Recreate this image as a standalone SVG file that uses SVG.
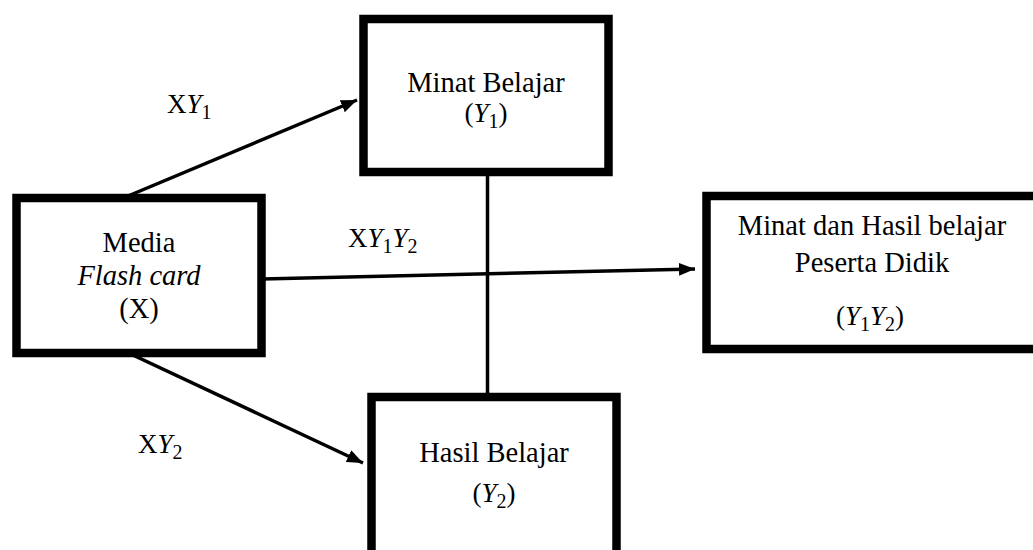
<svg xmlns="http://www.w3.org/2000/svg" width="1033" height="550" viewBox="0 0 1033 550">
<style>
.box{fill:#fff;stroke:#000;stroke-width:8.5}
.t{font-family:"Liberation Serif","Times New Roman",serif;font-size:28.5px;fill:#000}
.m{font-family:"Liberation Serif","Times New Roman",serif;font-size:27px;fill:#000}
.i{font-style:italic}
.sub{font-size:20px}
.c{stroke:#000;stroke-width:3.5;fill:none}
</style>
<defs>
<marker id="ah" markerUnits="userSpaceOnUse" markerWidth="18" markerHeight="14" refX="16" refY="6.5" orient="auto">
<path d="M0,0 L16,6.5 L0,13 z" fill="#000"/>
</marker>
</defs>
<rect width="1033" height="550" fill="#fff"/>
<g id="connectors">
<line class="c" x1="487.5" y1="172" x2="487.5" y2="396"/>
<line class="c" x1="128" y1="196" x2="357" y2="100" marker-end="url(#ah)"/>
<line class="c" x1="120" y1="349" x2="363" y2="463" marker-end="url(#ah)"/>
<line class="c" x1="262" y1="279" x2="695" y2="269" marker-end="url(#ah)"/>
</g>
<g id="node-media">
<rect class="box" x="16.5" y="198" width="245" height="155"/>
<text class="t" x="139" y="252" text-anchor="middle">Media</text>
<text class="t i" x="139" y="285" text-anchor="middle">Flash card</text>
<text class="t" x="139" y="318" text-anchor="middle">(X)</text>
</g>
<g id="node-minat">
<rect class="box" x="363.5" y="19" width="245" height="153"/>
<text class="t" x="486" y="92" text-anchor="middle">Minat Belajar</text>
<text class="m" x="486" y="122" text-anchor="middle">(<tspan class="i">Y</tspan><tspan class="sub" dy="6">1</tspan><tspan dy="-6">)</tspan></text>
</g>
<g id="node-hasil">
<rect class="box" x="371.5" y="397" width="245" height="158"/>
<text class="t" x="494" y="462" text-anchor="middle">Hasil Belajar</text>
<text class="m" x="494" y="502" text-anchor="middle">(<tspan class="i">Y</tspan><tspan class="sub" dy="6">2</tspan><tspan dy="-6">)</tspan></text>
</g>
<g id="node-result">
<rect class="box" x="706.5" y="196" width="335" height="153"/>
<text class="t" x="872" y="235" text-anchor="middle">Minat dan Hasil belajar</text>
<text class="t" x="872" y="272" text-anchor="middle">Peserta Didik</text>
<text class="m" x="870" y="325" text-anchor="middle">(<tspan class="i">Y</tspan><tspan class="sub" dy="6">1</tspan><tspan class="i" dy="-6">Y</tspan><tspan class="sub" dy="6">2</tspan><tspan dy="-6">)</tspan></text>
</g>
<g id="labels">
<text class="m" x="167" y="113">X<tspan class="i">Y</tspan><tspan class="sub" dy="6">1</tspan></text>
<text class="m" x="138" y="453">X<tspan class="i">Y</tspan><tspan class="sub" dy="6">2</tspan></text>
<text class="m" x="348" y="247">X<tspan class="i">Y</tspan><tspan class="sub" dy="6">1</tspan><tspan class="i" dy="-6">Y</tspan><tspan class="sub" dy="6">2</tspan></text>
</g>
</svg>
